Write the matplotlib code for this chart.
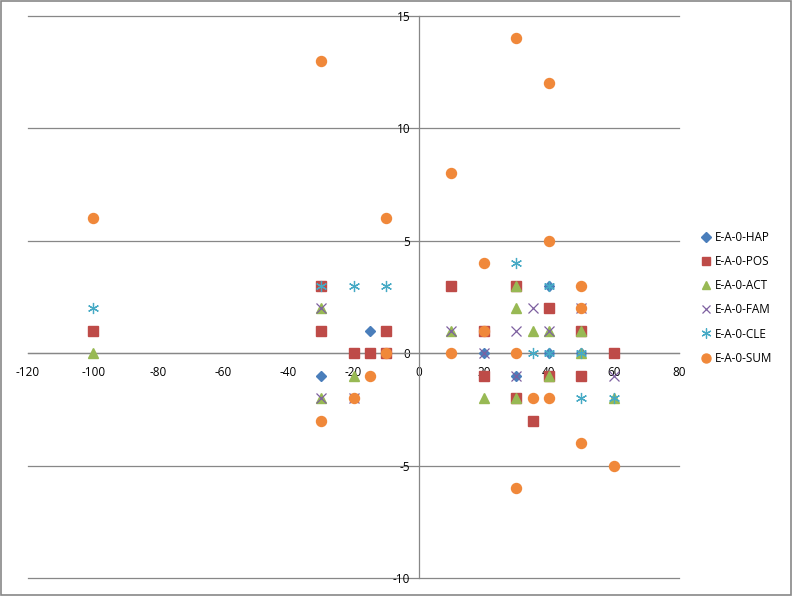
import matplotlib
matplotlib.use("Agg")
import matplotlib.pyplot as plt
from matplotlib.patches import Rectangle

plt.rcParams['font.family'] = ['Open Sans', 'DejaVu Sans']

hap_x = [-30, -15, 20, 30, 40, 40, 50]
hap_y = [-1, 1, 0, -1, 3, 0, 0]

pos_x = [-100, -30, -30, -20, -15, -10, -10, 10, 20, 20, 30, 30, 35, 40, 40, 50, 50, 60]
pos_y = [1, 3, 1, 0, 0, 1, 0, 3, 1, -1, 3, -2, -3, 2, -1, 1, -1, 0]

act_x = [-100, -30, -30, -20, 10, 20, 30, 30, 30, 35, 40, 40, 50, 50, 60]
act_y = [0, 2, -2, -1, 1, -2, 3, 2, -2, 1, 1, -1, 1, 0, -2]

fam_x = [-30, -30, 10, 20, 30, 30, 35, 40, 50, 60, -20]
fam_y = [2, -2, 1, 0, 1, -1, 2, 1, 2, -1, -2]

cle_x = [-100, -30, -20, -10, 30, 35, 40, 40, 50, 50, 60]
cle_y = [2, 3, 3, 3, 4, 0, 3, 0, 0, -2, -2]

sum_x = [-100, -30, -30, -20, -15, -10, -10, 10, 10, 20, 20, 30, 30, 30, 35, 40, 40, 40, 50, 50, 50, 60]
sum_y = [6, 13, -3, -2, -1, 6, 0, 8, 0, 4, 1, 14, 0, -6, -2, 12, 5, -2, 3, 2, -4, -5]

x_ticks = [-120, -100, -80, -60, -40, -20, 0, 20, 40, 60, 80]
y_ticks = [-10, -5, 0, 5, 10, 15]

fig = plt.figure(figsize=(7.92, 5.96), dpi=100)
ax = fig.add_axes([28/792, 1-578/596, (679-28)/792, (578-16)/596])
ax.set_xlim(-120, 80)
ax.set_ylim(-10, 15)

for yv in y_ticks:
    ax.axhline(yv, color='#878787', lw=0.9, zorder=0, clip_on=False)

series = [
    ('E-A-0-HAP', hap_x, hap_y, dict(marker='D', color='#4A7EBB', ms=5.2, ls='none')),
    ('E-A-0-POS', pos_x, pos_y, dict(marker='s', color='#BE4B48', ms=6.5, ls='none')),
    ('E-A-0-ACT', act_x, act_y, dict(marker='^', color='#98B954', ms=7.0, ls='none')),
    ('E-A-0-FAM', fam_x, fam_y, dict(marker='x', color='#7D60A0', ms=7.0, mew=0.9, ls='none')),
    ('E-A-0-CLE', cle_x, cle_y, dict(marker=(6, 2, 0), color='#46AAC5', ms=8.0, mew=0.9, ls='none')),
    ('E-A-0-SUM', sum_x, sum_y, dict(marker='o', color='#F0883A', ms=7.2, ls='none')),
]
handles = []
for name, xs, ys, kw in series:
    h, = ax.plot(xs, ys, label=name, zorder=3, clip_on=False, **kw)
    handles.append(h)

for s in ['top', 'right']:
    ax.spines[s].set_visible(False)
ax.spines['left'].set_position(('data', 0))
ax.spines['bottom'].set_position(('data', 0))
for s in ['left', 'bottom']:
    ax.spines[s].set_color('#878787')
    ax.spines[s].set_linewidth(0.9)
ax.set_xticks(x_ticks)
ax.set_yticks(y_ticks)
ax.set_xticklabels([str(v) for v in x_ticks])
ax.set_yticklabels([str(v) for v in y_ticks])
ax.tick_params(axis='both', labelsize=8.5, colors='black', length=0, pad=6)
ax.tick_params(axis='x', pad=9)

leg = fig.legend(handles=handles, loc='upper left', bbox_to_anchor=(697/792, 1-226/596),
                 frameon=False, fontsize=8.5, labelspacing=0.95, handlelength=0.8,
                 handletextpad=0.3, borderaxespad=0, markerscale=0.9)

fig.patches.append(Rectangle((0.001, 0.001), 0.998, 0.997, transform=fig.transFigure,
                             fill=False, edgecolor='#878787', lw=1.2))

fig.savefig('out.png', dpi=100)
